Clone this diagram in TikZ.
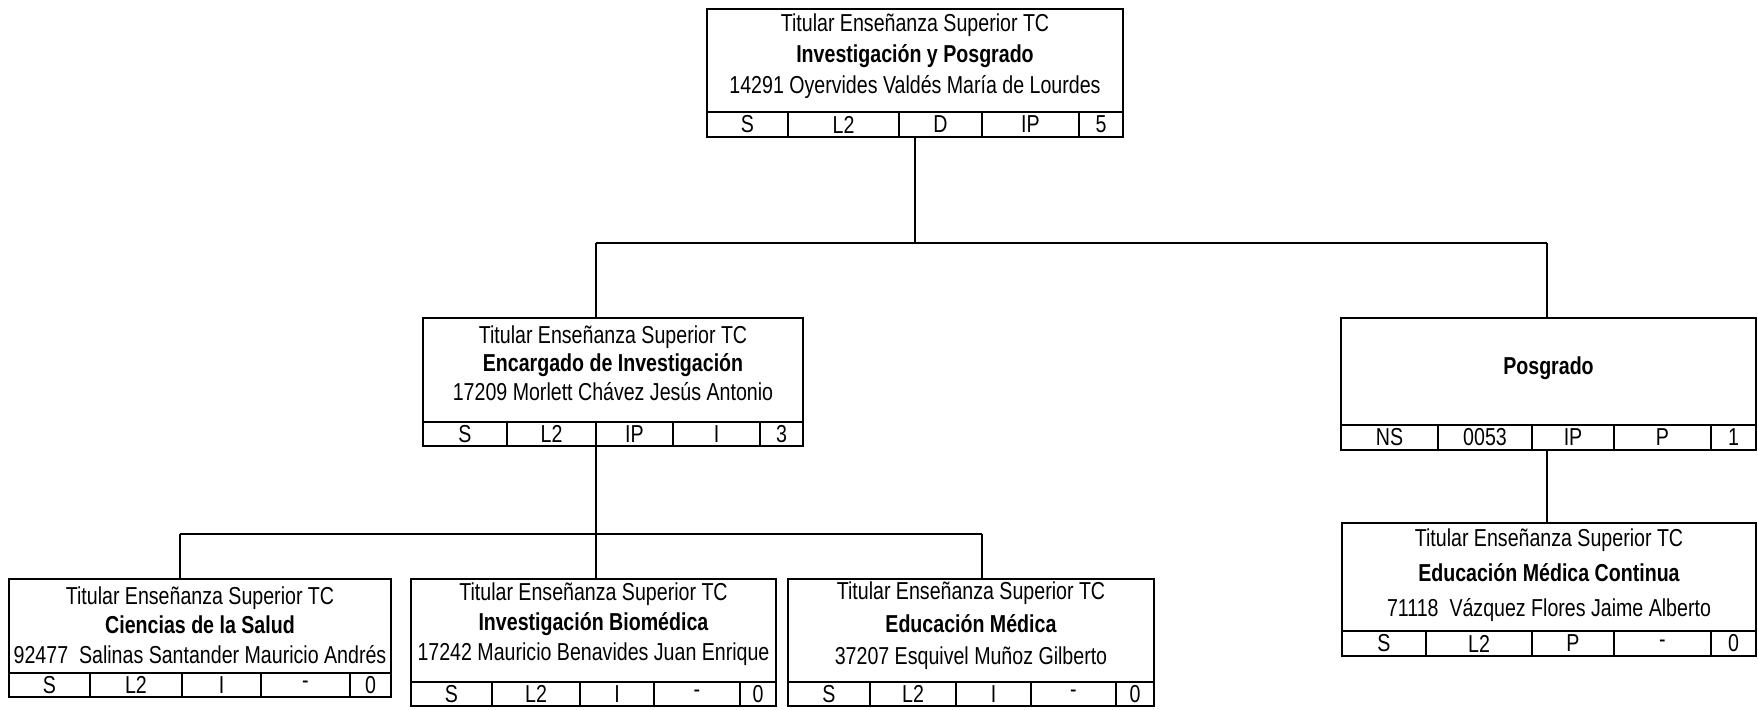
\documentclass[tikz,border=0pt]{standalone}
\usepackage{fontspec}
\setmainfont[FakeStretch=0.8]{Liberation Sans}
\begin{document}
\begin{tikzpicture}[x=0.5pt, y=-0.5pt,
    marco/.style={draw, line width=1.4pt, inner sep=0pt},
    fila/.style={line width=1.2pt},
    col/.style={line width=1pt},
    texto/.style={align=center, inner sep=0pt, font=\fontsize{12.25}{#1}\selectfont},
    texto/.default=14.75pt,
    dato/.style={inner sep=0pt, font=\fontsize{12.25}{14}\selectfont},
    enlace/.style={line width=0.75pt}]
  \useasboundingbox (0,0) rectangle (1758,709);

  % Investigacion y Posgrado
  \node[marco, minimum width=208pt, minimum height=64pt] (ip) at (915,73) {};
  \node[texto=15.5pt] (ip-t) at (915,56) {Titular Enseñanza Superior TC\\\textbf{Investigación y Posgrado}\\14291 Oyervides Valdés María de Lourdes};
  \draw[fila] (707,112) -- (1123,112);
  \foreach \x in {788,899,982,1079} \draw[col] (\x,112) -- (\x,137);
  \foreach \a/\b/\l [count=\i] in {707/788/S,788/899/L2,899/982/D,982/1079/IP,1079/1123/5}
    \node[dato] (ip-\i) at ({(\a+\b)/2},124.5) {\l};

  % Encargado de Investigacion
  \node[marco, minimum width=190pt, minimum height=64pt] (ei) at (613,382) {};
  \node[texto=14.25pt] (ei-t) at (613,363) {Titular Enseñanza Superior TC\\\textbf{Encargado de Investigación}\\17209 Morlett Chávez Jesús Antonio};
  \draw[fila] (423,422) -- (803,422);
  \foreach \x in {507,596,673,760} \draw[col] (\x,422) -- (\x,446);
  \foreach \a/\b/\l [count=\i] in {423/507/S,507/596/L2,596/673/IP,673/760/I,760/803/3}
    \node[dato] (ei-\i) at ({(\a+\b)/2},434) {\l};

  % Posgrado
  \node[marco, minimum width=207.5pt, minimum height=66pt] (po) at (1548.5,384) {};
  \node[texto] (po-t) at (1548.5,368) {\textbf{Posgrado}};
  \draw[fila] (1341,425) -- (1756,425);
  \foreach \x in {1438,1532,1614,1711} \draw[col] (\x,425) -- (\x,450);
  \foreach \a/\b/\l [count=\i] in {1341/1438/NS,1438/1532/0053,1532/1614/IP,1614/1711/P,1711/1756/1}
    \node[dato] (po-\i) at ({(\a+\b)/2},437.5) {\l};

  % Educacion Medica Continua
  \node[marco, minimum width=207pt, minimum height=66.5pt] (emc) at (1549,589.5) {};
  \node[texto=17.5pt] (emc-t) at (1549,575) {Titular Enseñanza Superior TC\\\textbf{Educación Médica Continua}\\71118\ \ Vázquez Flores Jaime Alberto};
  \draw[fila] (1342,631) -- (1756,631);
  \foreach \x in {1426,1532,1614,1711} \draw[col] (\x,631) -- (\x,656);
  \foreach \a/\b/\l [count=\i] in {1342/1426/S,1426/1532/L2,1532/1614/P,1614/1711/-,1711/1756/0}
    \node[dato] (emc-\i) at ({(\a+\b)/2},643.5) {\l};

  % Ciencias de la Salud
  \node[marco, minimum width=191pt, minimum height=59pt] (cs) at (200,638) {};
  \node[texto=14.75pt] (cs-t) at (200,625) {Titular Enseñanza Superior TC\\\textbf{Ciencias de la Salud}\\92477\ \ Salinas Santander Mauricio Andrés};
  \draw[fila] (9,673) -- (391,673);
  \foreach \x in {90,182,261,350} \draw[col] (\x,673) -- (\x,697);
  \foreach \a/\b/\l [count=\i] in {9/90/S,90/182/L2,182/261/I,261/350/-,350/391/0}
    \node[dato] (cs-\i) at ({(\a+\b)/2},685) {\l};

  % Investigacion Biomedica
  \node[marco, minimum width=182.5pt, minimum height=63.5pt] (ib) at (593.5,642.5) {};
  \node[texto=15pt] (ib-t) at (593.5,624) {Titular Enseñanza Superior TC\\\textbf{Investigación Biomédica}\\17242 Mauricio Benavides Juan Enrique};
  \draw[fila] (411,682) -- (776,682);
  \foreach \x in {492,580,654,740} \draw[col] (\x,682) -- (\x,706);
  \foreach \a/\b/\l [count=\i] in {411/492/S,492/580/L2,580/654/I,654/740/-,740/776/0}
    \node[dato] (ib-\i) at ({(\a+\b)/2},694) {\l};

  % Educacion Medica
  \node[marco, minimum width=183pt, minimum height=63.5pt] (em) at (971,642.5) {};
  \node[texto=16.25pt] (em-t) at (971,626) {Titular Enseñanza Superior TC\\\textbf{Educación Médica}\\37207 Esquivel Muñoz Gilberto};
  \draw[fila] (788,682) -- (1154,682);
  \foreach \x in {870,956,1031,1116} \draw[col] (\x,682) -- (\x,706);
  \foreach \a/\b/\l [count=\i] in {788/870/S,870/956/L2,956/1031/I,1031/1116/-,1116/1154/0}
    \node[dato] (em-\i) at ({(\a+\b)/2},694) {\l};

  % enlaces
  \coordinate (b1l) at (596,243);
  \coordinate (b1r) at (1547,243);
  \coordinate (b2l) at (180,534);
  \coordinate (b2m) at (596,534);
  \coordinate (b2r) at (982,534);
  \draw[enlace] (ip.south) -- (ip.south |- b1l);
  \draw[enlace] (b1l) -- (b1r);
  \draw[enlace] (b1l) -- (b1l |- ei.north);
  \draw[enlace] (b1r) -- (b1r |- po.north);
  \draw[enlace] (po.south -| b1r) -- (b1r |- emc.north);
  \draw[enlace] (ei.south -| b2m) -- (b2m);
  \draw[enlace] (b2l) -- (b2r);
  \draw[enlace] (b2l) -- (b2l |- cs.north);
  \draw[enlace] (b2m) -- (b2m |- ib.north);
  \draw[enlace] (b2r) -- (b2r |- em.north);
\end{tikzpicture}
\end{document}
